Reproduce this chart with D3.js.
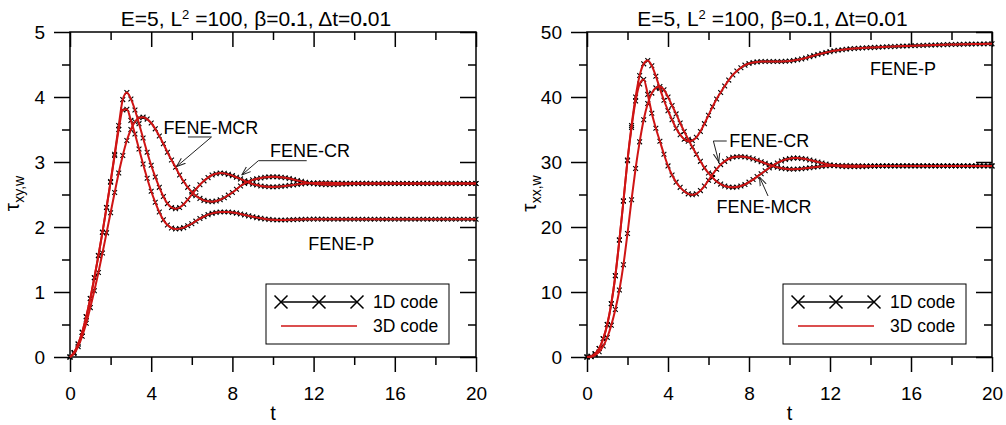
<!DOCTYPE html>
<html>
<head>
<meta charset="utf-8">
<script src="https://cdn.jsdelivr.net/npm/d3@7"></script>
<style>
  body { margin: 0; background: #fff; }
  svg { display: block; font-family: "Liberation Sans", Arial, sans-serif; }
</style>
</head>
<body>
<svg id="chart" width="1006" height="425"></svg>
<script>
// sampling step of the tabulated curves (t = 0 .. 20)
const DT = 0.2;

const xTicks = [0, 4, 8, 12, 16, 20];
const xMinor = [2, 6, 10, 14, 18];

const xyTicks = [0, 1, 2, 3, 4, 5];
const xyMinor = [0.5, 1.5, 2.5, 3.5, 4.5];
const xxTicks = [0, 10, 20, 30, 40, 50];
const xxMinor = [5, 15, 25, 35, 45];

// tau_xy,w  (left panel)
const xyCR = [
  0, 0.07, 0.2, 0.38, 0.62, 0.9, 1.22, 1.56, 1.92, 2.3,
  2.7, 3.12, 3.56, 3.96, 4.07, 3.97, 3.8, 3.59, 3.37, 3.15,
  2.95, 2.77, 2.61, 2.47, 2.36, 2.3, 2.28, 2.3, 2.35, 2.42,
  2.5, 2.58, 2.65, 2.71, 2.76, 2.8, 2.82, 2.83, 2.825, 2.81,
  2.79, 2.765, 2.74, 2.71, 2.685, 2.66, 2.645, 2.632, 2.623, 2.618,
  2.617, 2.62, 2.625, 2.632, 2.64, 2.648, 2.656, 2.663, 2.669, 2.674,
  2.677, 2.679, 2.68, 2.68, 2.679, 2.678, 2.676, 2.675, 2.674, 2.673,
  2.672, 2.672, 2.671, 2.671, 2.67, 2.67, 2.67, 2.67, 2.67, 2.67,
  2.67, 2.67, 2.67, 2.67, 2.67, 2.67, 2.67, 2.67, 2.67, 2.67,
  2.67, 2.67, 2.67, 2.67, 2.67, 2.67, 2.67, 2.67, 2.67, 2.67,
  2.67
];
const xyP = [
  0, 0.07, 0.2, 0.38, 0.62, 0.9, 1.22, 1.56, 1.92, 2.3,
  2.69, 3.1, 3.5, 3.8, 3.81, 3.64, 3.43, 3.2, 2.97, 2.75,
  2.55, 2.38, 2.23, 2.11, 2.03, 1.985, 1.97, 1.975, 1.99, 2.02,
  2.05, 2.09, 2.13, 2.16, 2.19, 2.21, 2.222, 2.23, 2.232, 2.23,
  2.224, 2.214, 2.2, 2.186, 2.171, 2.157, 2.144, 2.133, 2.124, 2.117,
  2.112, 2.109, 2.108, 2.109, 2.111, 2.113, 2.115, 2.117, 2.119, 2.12,
  2.121, 2.121, 2.121, 2.12, 2.12, 2.12, 2.12, 2.12, 2.12, 2.12,
  2.12, 2.12, 2.12, 2.12, 2.12, 2.12, 2.12, 2.12, 2.12, 2.12,
  2.12, 2.12, 2.12, 2.12, 2.12, 2.12, 2.12, 2.12, 2.12, 2.12,
  2.12, 2.12, 2.12, 2.12, 2.12, 2.12, 2.12, 2.12, 2.12, 2.12,
  2.12
];
const xyMCR = [
  0, 0.05, 0.16, 0.32, 0.52, 0.76, 1.02, 1.3, 1.6, 1.91,
  2.22, 2.53, 2.83, 3.1, 3.33, 3.5, 3.62, 3.68, 3.69, 3.66,
  3.6, 3.51, 3.4, 3.28, 3.15, 3.03, 2.92, 2.8, 2.7, 2.61,
  2.54, 2.48, 2.44, 2.41, 2.395, 2.39, 2.4, 2.42, 2.45, 2.49,
  2.53, 2.58, 2.63, 2.67, 2.7, 2.725, 2.742, 2.755, 2.765, 2.771,
  2.773, 2.771, 2.766, 2.757, 2.745, 2.731, 2.716, 2.702, 2.689, 2.677,
  2.667, 2.66, 2.655, 2.652, 2.651, 2.652, 2.654, 2.657, 2.66, 2.663,
  2.665, 2.667, 2.668, 2.669, 2.67, 2.67, 2.67, 2.67, 2.67, 2.67,
  2.67, 2.67, 2.67, 2.67, 2.67, 2.67, 2.67, 2.67, 2.67, 2.67,
  2.67, 2.67, 2.67, 2.67, 2.67, 2.67, 2.67, 2.67, 2.67, 2.67,
  2.67
];

// tau_xx,w  (right panel)
const xxP = [
  0, 0.1, 0.5, 1.3, 2.8, 5, 8.2, 12.5, 18, 24,
  30.3, 35.6, 40, 43.3, 45.1, 45.6, 44.8, 43.2, 41.3, 39.5,
  37.9, 36.5, 35.2, 34.2, 33.5, 33.2, 33.3, 33.8, 34.7, 35.9,
  37.2, 38.5, 39.7, 40.7, 41.7, 42.6, 43.4, 44, 44.5, 44.9,
  45.15, 45.3, 45.4, 45.45, 45.45, 45.45, 45.45, 45.45, 45.47, 45.5,
  45.55, 45.62, 45.72, 45.85, 46, 46.18, 46.36, 46.54, 46.7, 46.85,
  46.98, 47.1, 47.2, 47.28, 47.35, 47.41, 47.46, 47.5, 47.54, 47.57,
  47.6, 47.63, 47.66, 47.69, 47.72, 47.75, 47.78, 47.8, 47.83, 47.85,
  47.88, 47.9, 47.92, 47.94, 47.96, 47.98, 48, 48.02, 48.04, 48.06,
  48.07, 48.09, 48.1, 48.12, 48.13, 48.14, 48.15, 48.16, 48.17, 48.18,
  48.19
];
const xxCR = [
  0, 0.1, 0.5, 1.3, 2.8, 5, 8.2, 12.5, 18, 24,
  30.2, 35.3, 39.4, 42, 42.7, 40.4, 37.5, 35.2, 33.2, 31.2,
  29.4, 28, 26.9, 26.1, 25.5, 25.1, 24.95, 25.1, 25.6, 26.3,
  27.2, 28.1, 28.9, 29.6, 30.1, 30.5, 30.72, 30.82, 30.84, 30.78,
  30.65, 30.48, 30.27, 30.04, 29.8, 29.57, 29.36, 29.18, 29.04, 28.95,
  28.9, 28.89, 28.92, 28.97, 29.04, 29.12, 29.2, 29.27, 29.33, 29.38,
  29.42, 29.45, 29.46, 29.46, 29.45, 29.44, 29.43, 29.42, 29.41, 29.4,
  29.4, 29.4, 29.4, 29.4, 29.4, 29.4, 29.4, 29.4, 29.4, 29.4,
  29.4, 29.4, 29.4, 29.4, 29.4, 29.4, 29.4, 29.4, 29.4, 29.4,
  29.4, 29.4, 29.4, 29.4, 29.4, 29.4, 29.4, 29.4, 29.4, 29.4,
  29.4
];
const xxMCR = [
  0, 0.05, 0.3, 0.8, 1.7, 3, 4.9, 7.3, 10.3, 14.2,
  19, 24.2, 29, 33.1, 36.5, 39, 40.6, 41.4, 41.6, 41.1,
  40, 38.7, 37.4, 36, 34.7, 33.5, 32.3, 31.2, 30.1, 29.1,
  28.3, 27.6, 27, 26.6, 26.3, 26.15, 26.1, 26.15, 26.3, 26.55,
  26.9, 27.3, 27.75, 28.2, 28.65, 29.1, 29.5, 29.85, 30.15, 30.38,
  30.52, 30.6, 30.6, 30.55, 30.45, 30.3, 30.15, 30, 29.85, 29.7,
  29.57, 29.47, 29.38, 29.32, 29.28, 29.26, 29.26, 29.27, 29.29, 29.32,
  29.35, 29.37, 29.39, 29.4, 29.4, 29.4, 29.4, 29.4, 29.4, 29.4,
  29.4, 29.4, 29.4, 29.4, 29.4, 29.4, 29.4, 29.4, 29.4, 29.4,
  29.4, 29.4, 29.4, 29.4, 29.4, 29.4, 29.4, 29.4, 29.4, 29.4,
  29.4
];

// curve labels and their leader lines, in data units (t, tau)
const labelsXY = [
  {text: "FENE-MCR", t: 4.6, v: 3.43},
  {text: "FENE-CR", t: 9.85, v: 3.08},
  {text: "FENE-P", t: 11.74, v: 1.646}
];
const leadersXY = [
  [[5.81, 3.385], [6.97, 3.385], [5.25, 2.93]],
  [[11.66, 3.02], [9.28, 3.02], [8.46, 2.8]]
];
const labelsXX = [
  {text: "FENE-P", t: 13.98, v: 43.4},
  {text: "FENE-CR", t: 7.03, v: 32.35},
  {text: "FENE-MCR", t: 6.4, v: 22.1}
];
const leadersXX = [
  [[6.9, 33.23], [6.24, 33.23], [6.51, 30.0]],
  [[8.94, 24.77], [8.52, 27.69]]
];

const TOP = 32, BOTTOM = 357;
const RED = "#cf1414";

const svg = d3.select("#chart");
svg.append("rect").attr("width", 1006).attr("height", 425).attr("fill", "#fff");

svg.append("defs").append("marker")
    .attr("id", "arrow")
    .attr("viewBox", "0 -5 10 10")
    .attr("refX", 10)
    .attr("refY", 0)
    .attr("markerUnits", "userSpaceOnUse")
    .attr("markerWidth", 9)
    .attr("markerHeight", 9)
    .attr("orient", "auto")
    .append("path")
    .attr("d", "M0,-3.6L10,0L0,3.6")
    .attr("fill", "none")
    .attr("stroke", "#222")
    .attr("stroke-width", 1.1);

function toPoints(vals) {
    return vals.map((v, i) => [i * DT, v]);
}

function crossPath(pts, x, y, r) {
    const p = d3.path();
    pts.forEach(d => {
        const cx = x(d[0]), cy = y(d[1]);
        p.moveTo(cx - r, cy - r); p.lineTo(cx + r, cy + r);
        p.moveTo(cx - r, cy + r); p.lineTo(cx + r, cy - r);
    });
    return p.toString();
}

function addAxis(g, axis, tx, ty) {
    const a = g.append("g").attr("transform", `translate(${tx},${ty})`).call(axis);
    a.select(".domain").remove();
    a.attr("font-family", null).attr("font-size", null);
    a.selectAll("line").attr("stroke", "#000").attr("stroke-width", 1.5);
    a.selectAll("text").attr("fill", "#000").style("font-size", "19px");
    return a;
}

function drawPanel(cfg) {
    const W = cfg.width, H = BOTTOM - TOP;
    const g = svg.append("g").attr("transform", `translate(${cfg.left},${TOP})`);
    const x = d3.scaleLinear().domain([0, 20]).range([0, W]);
    const y = d3.scaleLinear().domain([0, cfg.yMax]).range([H, 0]);

    // ticks: outside on bottom/left, inside on top/right
    addAxis(g, d3.axisBottom(x).tickValues(xTicks).tickSize(15).tickPadding(15).tickFormat(d3.format("d")), 0, H);
    addAxis(g, d3.axisBottom(x).tickValues(xMinor).tickSize(8).tickFormat(""), 0, H);
    addAxis(g, d3.axisBottom(x).tickValues(xTicks).tickSize(15).tickFormat(""), 0, 0);
    addAxis(g, d3.axisBottom(x).tickValues(xMinor).tickSize(8).tickFormat(""), 0, 0);
    addAxis(g, d3.axisLeft(y).tickValues(cfg.yTicks).tickSize(16).tickPadding(9).tickFormat(d3.format("d")), 0, 0);
    addAxis(g, d3.axisLeft(y).tickValues(cfg.yMinor).tickSize(8).tickFormat(""), 0, 0);
    addAxis(g, d3.axisLeft(y).tickValues(cfg.yTicks).tickSize(16).tickFormat(""), W, 0);
    addAxis(g, d3.axisLeft(y).tickValues(cfg.yMinor).tickSize(8).tickFormat(""), W, 0);

    g.append("rect")
        .attr("width", W).attr("height", H)
        .attr("fill", "none").attr("stroke", "#000").attr("stroke-width", 1.5);

    // 1D code: black crosses, 3D code: red line on top
    const series = cfg.series.map(toPoints);
    series.forEach(pts => {
        g.append("path")
            .attr("d", crossPath(pts, x, y, 2.4))
            .attr("stroke", "#000")
            .attr("stroke-width", 1.1)
            .attr("fill", "none");
    });
    const line = d3.line().x(d => x(d[0])).y(d => y(d[1])).curve(d3.curveMonotoneX);
    series.forEach(pts => {
        g.append("path")
            .attr("d", line(pts))
            .attr("stroke", RED)
            .attr("stroke-width", 2)
            .attr("fill", "none");
    });

    // labels
    g.selectAll(".lbl").data(cfg.labels).enter().append("text")
        .attr("class", "lbl")
        .attr("x", d => x(d.t))
        .attr("y", d => y(d.v))
        .style("font-size", "18px")
        .attr("fill", "#000")
        .text(d => d.text);
    const leader = d3.line().x(d => x(d[0])).y(d => y(d[1]));
    cfg.leaders.forEach(pts => {
        g.append("path")
            .attr("d", leader(pts))
            .attr("fill", "none")
            .attr("stroke", "#222")
            .attr("stroke-width", 1)
            .attr("marker-end", "url(#arrow)");
    });

    // title
    const title = g.append("text")
        .attr("x", W / 2 - 17)
        .attr("y", -6)
        .attr("text-anchor", "middle")
        .style("font-size", "21px");
    title.append("tspan").text("E=5, L");
    title.append("tspan").attr("dy", -7).style("font-size", "13px").text("2");
    title.append("tspan").attr("dy", 7).text("\u00a0=100, \u03b2=0");
    title.append("tspan").style("font-weight", "bold").text(".");
    title.append("tspan").text("1, \u0394t=0");
    title.append("tspan").style("font-weight", "bold").text(".");
    title.append("tspan").text("01");

    // axis titles
    g.append("text")
        .attr("x", W / 2)
        .attr("y", H + 63)
        .attr("text-anchor", "middle")
        .style("font-size", "20px")
        .text("t");
    const yl = g.append("text")
        .attr("transform", `translate(-51,${H / 2 - 1}) rotate(-90)`)
        .attr("text-anchor", "middle");
    yl.append("tspan").style("font-size", "21px").text("\u03c4");
    yl.append("tspan").attr("dy", 5).style("font-size", "14px").text(cfg.sub);

    // legend
    const lg = g.append("g").attr("transform", `translate(196,${284 - TOP})`);
    lg.append("rect").attr("width", 183).attr("height", 60)
        .attr("fill", "#fff").attr("stroke", "#000").attr("stroke-width", 1);
    lg.append("line").attr("x1", 15).attr("x2", 91).attr("y1", 18).attr("y2", 18)
        .attr("stroke", "#000").attr("stroke-width", 1.5);
    const lp = d3.path();
    [15, 53, 91].forEach(cx => {
        lp.moveTo(cx - 6.5, 18 - 6.5); lp.lineTo(cx + 6.5, 18 + 6.5);
        lp.moveTo(cx - 6.5, 18 + 6.5); lp.lineTo(cx + 6.5, 18 - 6.5);
    });
    lg.append("path").attr("d", lp.toString()).attr("stroke", "#000").attr("stroke-width", 1.5);
    lg.append("line").attr("x1", 15).attr("x2", 91).attr("y1", 42).attr("y2", 42)
        .attr("stroke", RED).attr("stroke-width", 1.5);
    lg.append("text").attr("x", 107).attr("y", 24).style("font-size", "17.5px").text("1D code");
    lg.append("text").attr("x", 107).attr("y", 48).style("font-size", "17.5px").text("3D code");
}

drawPanel({
    left: 70, width: 406, yMax: 5, yTicks: xyTicks, yMinor: xyMinor, sub: "xy,w",
    series: [xyCR, xyP, xyMCR], labels: labelsXY, leaders: leadersXY
});
drawPanel({
    left: 587, width: 405, yMax: 50, yTicks: xxTicks, yMinor: xxMinor, sub: "xx,w",
    series: [xxP, xxCR, xxMCR], labels: labelsXX, leaders: leadersXX
});
</script>
</body>
</html>
